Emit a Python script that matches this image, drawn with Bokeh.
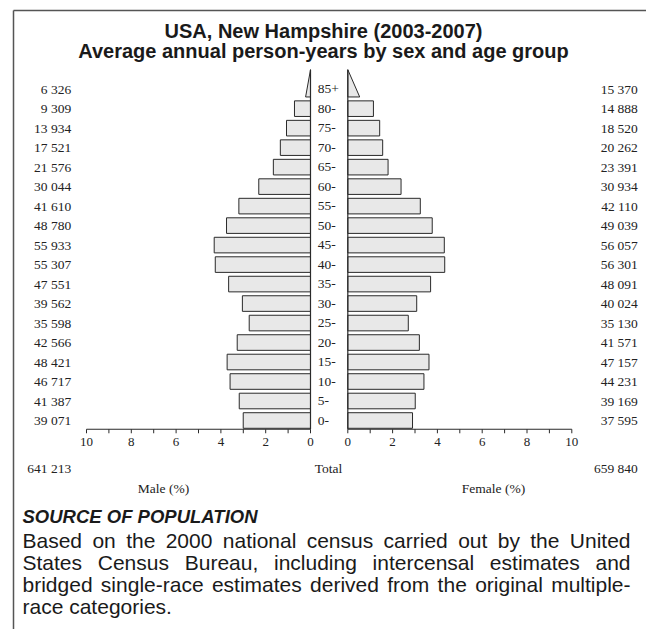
from bokeh.plotting import figure
from bokeh.models import Range1d
from bokeh.core.properties import value
from bokeh.embed import file_html
from bokeh.resources import INLINE

# ---------------- data ----------------
AGE_GROUPS = ["0-", "5-", "10-", "15-", "20-", "25-", "30-", "35-", "40-",
              "45-", "50-", "55-", "60-", "65-", "70-", "75-", "80-", "85+"]
MALE = [39071, 41387, 46717, 48421, 42566, 35598, 39562, 47551, 55307,
        55933, 48780, 41610, 30044, 21576, 17521, 13934, 9309, 6326]
FEMALE = [37595, 39169, 44231, 47157, 41571, 35130, 40024, 48091, 56301,
          56057, 49039, 42110, 30934, 23391, 20262, 18520, 14888, 15370]
MALE_TOTAL = 641213
FEMALE_TOTAL = 659840
AXIS_TICKS = [0, 2, 4, 6, 8, 10]
AXIS_MINOR = [0, 1, 2, 3, 4, 5, 6, 7, 8, 9, 10]

TITLE1 = "USA, New Hampshire (2003-2007)"
TITLE2 = "Average annual person-years by sex and age group"
SRC_HEAD = "SOURCE OF POPULATION"
SRC_LINES = ["Based on the 2000 national census carried out by the United",
             "States Census Bureau, including intercensal estimates and",
             "bridged single-race estimates derived from the original multiple-",
             "race categories."]

# ---------------- layout ----------------
W, H = 646, 629
M0, F0, PX = 310.0, 347.3, 22.4     # canvas x of the two zero lines, px per percent
Y0, RH = 420.0, 19.49               # canvas y of row 0 centre, px per row
BAR_H = 0.8
AX_Y = -0.45
TRI_TOP = 18.0
TRI_FACTOR = 0.45

SERIF = value("Liberation Serif")
SANS = value("Liberation Sans")
TXT = "#222222"

grand = MALE_TOTAL + FEMALE_TOTAL
male_pct = [v / grand * 100 for v in MALE]
female_pct = [v / grand * 100 for v in FEMALE]
idx = list(range(len(AGE_GROUPS)))
fmt = lambda v: f"{v:,}".replace(",", " ")

p = figure(width=W, height=H, x_range=Range1d(0, W), y_range=Range1d(H, 0),
           output_backend="svg", toolbar_location=None, min_border=0,
           x_axis_location=None, y_axis_location=None, outline_line_color=None,
           background_fill_color="white", border_fill_color="white")
p.xgrid.visible = False
p.ygrid.visible = False
p.extra_x_ranges = {"male": Range1d(start=M0 / PX, end=(M0 - W) / PX),
                    "female": Range1d(start=-F0 / PX, end=(W - F0) / PX)}
p.extra_y_ranges = {"age": Range1d(start=(Y0 - H) / RH, end=Y0 / RH)}

# frame border (top and left)
p.segment(x0=[13, 13], y0=[10, 10], x1=[W, 13], y1=[10, H], line_color="#555555", line_width=1.5)

# title
p.text(x=[323, 323], y=[30, 50], text=[TITLE1, TITLE2], text_font=SANS,
       text_font_style="bold", text_font_size="20px", text_align="center",
       text_baseline="alphabetic", text_color="#1a1a1a")

# bars (the open-ended last group is drawn as a triangle)
n = len(AGE_GROUPS) - 1
for name, pct in (("male", male_pct), ("female", female_pct)):
    p.hbar(y=idx[:n], height=BAR_H, left=0, right=pct[:n], fill_color="#e8e8e8",
           line_color="#2a2a2a", line_width=1, x_range_name=name, y_range_name="age")
    last = pct[-1]
    bot = idx[-1] - BAR_H / 2
    p.patch(x=[0, 0, last * TRI_FACTOR], y=[TRI_TOP, bot, bot], fill_color="#e8e8e8",
            line_color="#2a2a2a", line_width=1, x_range_name=name, y_range_name="age")
    # axis lines
    p.segment(x0=[0, 0], y0=[AX_Y, AX_Y], x1=[0, 10], y1=[TRI_TOP, AX_Y],
              line_color="#2a2a2a", line_width=1.2, x_range_name=name, y_range_name="age")
    p.segment(x0=AXIS_MINOR, y0=[AX_Y] * len(AXIS_MINOR), x1=AXIS_MINOR,
              y1=[AX_Y - 4 / RH] * len(AXIS_MINOR), line_color="#2a2a2a", line_width=1,
              x_range_name=name, y_range_name="age")
    p.text(x=AXIS_TICKS, y=[441] * len(AXIS_TICKS), text=[str(t) for t in AXIS_TICKS],
           text_font=SERIF, text_font_size="13px", text_align="center",
           text_baseline="middle", text_color=TXT, x_range_name=name)

# counts and age labels
p.text(x=[70.7] * len(MALE), y=idx, text=[fmt(v) for v in MALE], text_font=SERIF,
       text_font_size="13.5px", text_align="right", text_baseline="middle",
       text_color=TXT, y_range_name="age")
p.text(x=[637.3] * len(FEMALE), y=idx, text=[fmt(v) for v in FEMALE], text_font=SERIF,
       text_font_size="13.5px", text_align="right", text_baseline="middle",
       text_color=TXT, y_range_name="age")
p.text(x=[317.3] * len(AGE_GROUPS), y=idx, text=AGE_GROUPS, text_font=SERIF,
       text_font_size="13.5px", text_align="left", text_baseline="middle",
       text_color=TXT, y_range_name="age")

# totals
p.text(x=[70.7, 637.3], y=[468, 468], text=[fmt(MALE_TOTAL), fmt(FEMALE_TOTAL)],
       text_font=SERIF, text_font_size="13.5px", text_align="right",
       text_baseline="middle", text_color=TXT)
p.text(x=[328], y=[468], text=["Total"], text_font=SERIF, text_font_size="13.5px",
       text_align="center", text_baseline="middle", text_color=TXT)
p.text(x=[163, 493], y=[488, 488], text=["Male (%)", "Female (%)"], text_font=SERIF,
       text_font_size="13.5px", text_align="center", text_baseline="middle", text_color=TXT)

# source text
p.text(x=[22], y=[516], text=[SRC_HEAD], text_font=SANS, text_font_style="bold italic",
       text_font_size="18.5px", text_align="left", text_baseline="alphabetic",
       text_color="#1a1a1a")

AW = {' ': 278, ',': 278, '.': 278, '-': 333, 'B': 667, 'C': 722, 'S': 667, 'U': 722}
AW.update({c: 556 for c in "0123456789abdeghnopqu"})
AW.update({'c': 500, 'f': 278, 'i': 222, 'j': 222, 'k': 500, 'l': 222, 'm': 833,
           'r': 333, 's': 500, 't': 278, 'v': 500, 'w': 722, 'x': 500, 'y': 500, 'z': 500})
BODY_SIZE = 21.0
LEFT, RIGHT = 22.0, 630.0


def width(s):
    return sum(AW.get(c, 556) for c in s) / 1000 * BODY_SIZE


wx, wy, wt = [], [], []
for k, line in enumerate(SRC_LINES):
    words = line.split(" ")
    base = 540 + 22 * k
    if k < len(SRC_LINES) - 1 and len(words) > 1:
        gap = (RIGHT - LEFT - sum(width(w) for w in words)) / (len(words) - 1)
    else:
        gap = width(" ")
    x = LEFT
    for w in words:
        wx.append(x)
        wy.append(base)
        wt.append(w)
        x += width(w) + gap
p.text(x=wx, y=wy, text=wt, text_font=SANS, text_font_size=f"{BODY_SIZE}px",
       text_align="left", text_baseline="alphabetic", text_color="#1a1a1a")

open("out.html", "w").write(file_html(p, INLINE))
